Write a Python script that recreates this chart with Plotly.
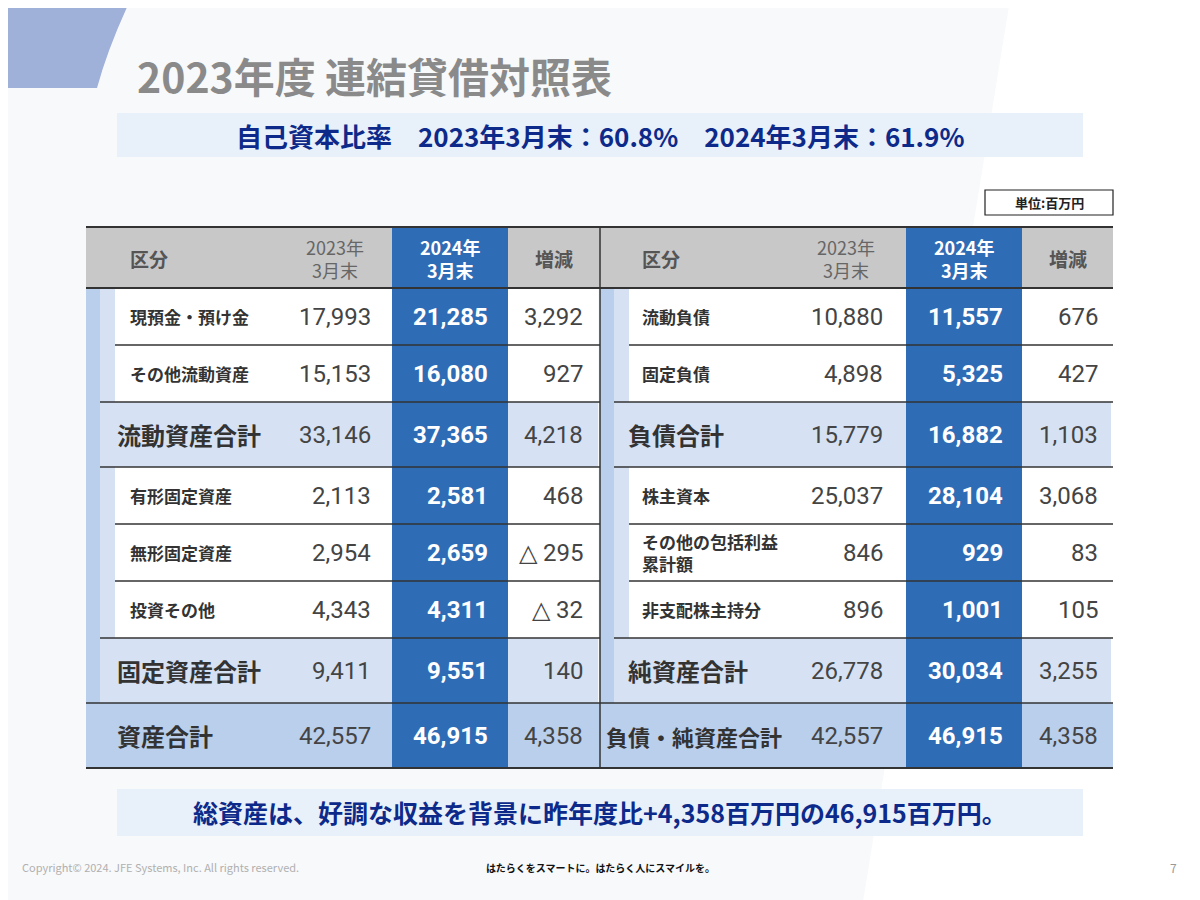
import plotly.graph_objects as go

title = "2023年度 連結貸借対照表"
ratio_text = "自己資本比率　2023年3月末：60.8%　2024年3月末：61.9%"
summary_text = "総資産は、好調な収益を背景に昨年度比+4,358百万円の46,915百万円。"
unit_text = "単位:百万円"
headers = ["区分", "2023年<br>3月末", "2024年<br>3月末", "増減"]

row_types = ["sub", "sub", "subtotal", "sub", "sub", "sub", "subtotal", "total"]
left_labels = ["現預金・預け金", "その他流動資産", "流動資産合計", "有形固定資産", "無形固定資産", "投資その他", "固定資産合計", "資産合計"]
left_2023 = ["17,993", "15,153", "33,146", "2,113", "2,954", "4,343", "9,411", "42,557"]
left_2024 = ["21,285", "16,080", "37,365", "2,581", "2,659", "4,311", "9,551", "46,915"]
left_diff = ["3,292", "927", "4,218", "468", "△ 295", "△ 32", "140", "4,358"]
right_labels = ["流動負債", "固定負債", "負債合計", "株主資本", "その他の包括利益<br>累計額", "非支配株主持分", "純資産合計", "負債・純資産合計"]
right_2023 = ["10,880", "4,898", "15,779", "25,037", "846", "896", "26,778", "42,557"]
right_2024 = ["11,557", "5,325", "16,882", "28,104", "929", "1,001", "30,034", "46,915"]
right_diff = ["676", "427", "1,103", "3,068", "83", "105", "3,255", "4,358"]

FONT = "Noto Sans CJK JP"
NUMFONT = "Roboto"
BLUE = "#2f6cb6"
LIGHT1 = "#b9cfec"
LIGHT2 = "#d6e2f3"
HDR = "#c8c8c8"
DARK = "#333333"

fig = go.Figure()
shapes = []
ann = []

def rect(x0, y0, x1, y1, fill, line=None, lw=0):
    shapes.append(dict(type="rect", x0=x0, y0=y0, x1=x1, y1=y1, fillcolor=fill,
                       line=dict(color=line or fill, width=lw), layer="below"))

def hline(x0, x1, y, w=1.5, c=DARK):
    shapes.append(dict(type="line", x0=x0, x1=x1, y0=y, y1=y, line=dict(color=c, width=w)))

def text(x, y, t, size, color, anchor="left", bold=False, family=FONT, **kw):
    ann.append(dict(x=x, y=y, text=f"<b>{t}</b>" if bold else t, showarrow=False,
                    xanchor=anchor, yanchor="middle", font=dict(family=family, size=size, color=color), **kw))

rect(-20, -20, 1220, 920, "#f8f9fa")
shapes.append(dict(type="path", path="M 1010 0 L 1220 0 L 1220 920 L 860 920 Z", fillcolor="#ffffff",
                   line=dict(width=0), layer="below"))
shapes.append(dict(type="path", path="M -20 -20 L 140 -20 Q 110 40 97 88 L -20 88 Z", fillcolor="#9fb0d9",
                   line=dict(width=0), layer="below"))

text(135, 75, title, 41, "#8a8a8a", bold=True)
rect(117, 113, 1083, 157, "#e8f0fa")
text(600, 135, ratio_text, 26, "#0d2a8a", anchor="center", bold=True)
rect(985, 190, 1113, 215, "#ffffff", "#222222", 1.2)
text(1049, 202, unit_text, 13, "#222222", anchor="center", bold=True)

rows = [288, 345, 402, 467, 524, 581, 638, 703, 768]

sections = [
    dict(x0=86, x1=600, cols=[(86, 392), (392, 508), (508, 600)], lab=[128, 115, 115],
         num=[373, 490, 585], labels=left_labels, v1=left_2023, v2=left_2024, v3=left_diff, hx=128, h2=335),
    dict(x0=600, x1=1113, cols=[(600, 906), (906, 1022), (1022, 1113)], lab=[640, 626, 604],
         num=[885, 1005, 1100], labels=right_labels, v1=right_2023, v2=right_2024, v3=right_diff, hx=640, h2=846),
]

for s in sections:
    x0, x1 = s["x0"], s["x1"]
    bx0, bx1 = s["cols"][1]
    rect(x0, 227, x1, 288, HDR)
    rect(bx0, 227, bx1, 288, BLUE)
    text(s["hx"], 258, headers[0], 19, "#555555", bold=True)
    text(s["h2"], 258, headers[1], 18, "#666666", anchor="center")
    text((bx0 + bx1) / 2, 258, headers[2], 18, "#ffffff", anchor="center", bold=True)
    text((s["cols"][2][0] + s["cols"][2][1]) / 2, 258, headers[3], 19, "#555555", anchor="center", bold=True)
    rect(x0, 288, x0 + 14, 703, LIGHT1)
    rect(x0 + 14, 288, x0 + 29, 703, LIGHT2)
    for i, t in enumerate(row_types):
        y0, y1 = rows[i], rows[i + 1]
        ym = (y0 + y1) / 2
        if t == "sub":
            rect(x0 + 29, y0, x1 - 2, y1, "#ffffff")
            size, lx = 17, s["lab"][0]
        elif t == "subtotal":
            rect(x0 + 14, y0, x1 - 2, y1, LIGHT2)
            size, lx = 24, s["lab"][1]
        else:
            rect(x0, y0, x1, y1, LIGHT1)
            size, lx = 24, s["lab"][2]
        lab = s["labels"][i]
        if t == "total" and len(lab) > 6:
            size = 22
        rect(bx0, y0, bx1, y1, BLUE)
        text(lx, ym, lab, size, "#333333", bold=True, align="left")
        nsize = 24
        text(s["num"][0], ym, s["v1"][i], nsize, "#444444", anchor="right", family=NUMFONT)
        text(s["num"][1], ym, s["v2"][i], nsize, "#ffffff", anchor="right", bold=True, family=NUMFONT)
        text(s["num"][2], ym, s["v3"][i], nsize, "#444444", anchor="right", family=NUMFONT)
        if i < len(row_types) - 1:
            nxt = row_types[i + 1]
            if t == "sub" and nxt == "sub":
                lx0 = x0 + 29
            elif t == "sub" or (t == "subtotal" and nxt == "sub"):
                lx0 = x0 + 14
            else:
                lx0 = x0
            hline(lx0, x1, y1, 1.5)

hline(86, 1113, 227, 2)
hline(86, 1113, 288, 2)
hline(86, 1113, 768, 2)
shapes.append(dict(type="line", x0=600, x1=600, y0=227, y1=768, line=dict(color=DARK, width=1.5)))

rect(117, 789, 1083, 836, "#e8f0fa")
text(600, 812, summary_text, 25, "#0d2a8a", anchor="center", bold=True)

text(20, 867, "Copyright© 2024. JFE Systems, Inc. All rights reserved.", 11, "#b0b0b0")
text(600, 867, "はたらくをスマートに。はたらく人にスマイルを。", 10, "#111111", anchor="center", bold=True)
text(1173, 867, "7", 12, "#999999", anchor="center")

fig.update_layout(
    width=1200, height=900, margin=dict(l=0, r=0, t=0, b=0),
    paper_bgcolor="#f8f9fa", plot_bgcolor="#f8f9fa",
    xaxis=dict(range=[8, 1208], visible=False, fixedrange=True),
    yaxis=dict(range=[908, 8], visible=False, fixedrange=True),
    shapes=shapes, annotations=ann, showlegend=False,
)
fig.write_html("out.html", config=dict(displayModeBar=False))
